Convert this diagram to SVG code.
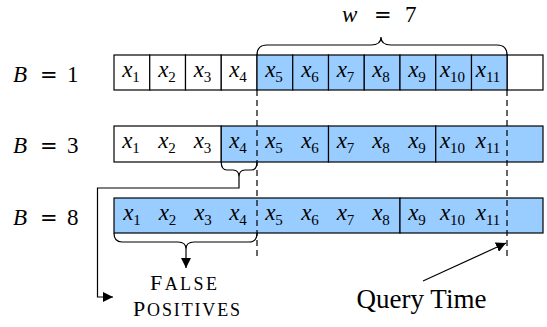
<svg xmlns="http://www.w3.org/2000/svg" width="547" height="327" viewBox="0 0 547 327">
  <style>
    .box { stroke: #000; stroke-width: 1.2; }
    .blue { fill: #99ccff; }
    .white { fill: #fff; }
    .m { font-family: "Liberation Serif", serif; font-size: 23px; fill: #000; }
    .it { font-style: italic; }
    .sub { font-size: 15px; font-style: normal; }
    .eq { font-family: "DejaVu Sans", sans-serif; font-size: 21px; font-style: normal; }
    .num { font-size: 23px; font-style: normal; }
    .lbl { font-family: "Liberation Serif", serif; fill: #000; }
    .cap { font-size: 22px; }
    .sc { font-size: 18px; }
    .line { fill: none; stroke: #000; stroke-width: 1.2; }
    .dash { fill: none; stroke: #000; stroke-width: 1.2; stroke-dasharray: 6 4; }
  </style>
  <defs>
    <marker id="arrow" viewBox="0 0 10 10" refX="10" refY="5" markerWidth="10" markerHeight="10" markerUnits="userSpaceOnUse" orient="auto">
      <path d="M0,0 L10,5 L0,10 z" fill="#000"/>
    </marker>
  </defs>

  <rect width="547" height="327" fill="#fff"/>

  <!-- window label and brace -->
  <g id="window">
    <text class="m" y="22"><tspan x="342" class="it">w</tspan><tspan x="374" class="eq">=</tspan><tspan x="405" class="num">7</tspan></text>
    <path class="line" d="M257,55 Q257,45 267,45 L371,45 Q381,45 381,37 Q381,45 391,45 L497,45 Q507,45 507,55"/>
  </g>

  <!-- B = 1: one element per block -->
  <g id="row-b1">
    <text class="m" y="82"><tspan x="13" class="it">B</tspan><tspan x="40" class="eq">=</tspan><tspan x="67" class="num">1</tspan></text>
    <rect class="box white" x="114" y="55" width="35.75" height="35"/>
    <rect class="box white" x="149.75" y="55" width="35.75" height="35"/>
    <rect class="box white" x="185.5" y="55" width="35.75" height="35"/>
    <rect class="box white" x="221.25" y="55" width="35.75" height="35"/>
    <rect class="box blue" x="257" y="55" width="35.75" height="35"/>
    <rect class="box blue" x="292.75" y="55" width="35.75" height="35"/>
    <rect class="box blue" x="328.5" y="55" width="35.75" height="35"/>
    <rect class="box blue" x="364.25" y="55" width="35.75" height="35"/>
    <rect class="box blue" x="400" y="55" width="35.75" height="35"/>
    <rect class="box blue" x="435.75" y="55" width="35.75" height="35"/>
    <rect class="box blue" x="471.5" y="55" width="35.75" height="35"/>
    <rect class="box white" x="507.25" y="55" width="35.75" height="35"/>
    <g class="m it" text-anchor="middle">
      <text x="131" y="77">x<tspan class="sub" dy="5">1</tspan></text>
      <text x="167" y="77">x<tspan class="sub" dy="5">2</tspan></text>
      <text x="202.5" y="77">x<tspan class="sub" dy="5">3</tspan></text>
      <text x="238" y="77">x<tspan class="sub" dy="5">4</tspan></text>
      <text x="274" y="77">x<tspan class="sub" dy="5">5</tspan></text>
      <text x="310" y="77">x<tspan class="sub" dy="5">6</tspan></text>
      <text x="345.5" y="77">x<tspan class="sub" dy="5">7</tspan></text>
      <text x="381" y="77">x<tspan class="sub" dy="5">8</tspan></text>
      <text x="417" y="77">x<tspan class="sub" dy="5">9</tspan></text>
      <text x="452.5" y="77">x<tspan class="sub" dy="5">10</tspan></text>
      <text x="488" y="77">x<tspan class="sub" dy="5">11</tspan></text>
    </g>
  </g>

  <!-- B = 3 -->
  <g id="row-b3">
    <text class="m" y="153"><tspan x="13" class="it">B</tspan><tspan x="40" class="eq">=</tspan><tspan x="67" class="num">3</tspan></text>
    <rect class="box white" x="114" y="126" width="107.25" height="36"/>
    <rect class="box blue" x="221.25" y="126" width="107.25" height="36"/>
    <rect class="box blue" x="328.5" y="126" width="107.25" height="36"/>
    <rect class="box blue" x="435.75" y="126" width="107.25" height="36"/>
    <g class="m it" text-anchor="middle">
      <text x="131" y="148">x<tspan class="sub" dy="5">1</tspan></text>
      <text x="167" y="148">x<tspan class="sub" dy="5">2</tspan></text>
      <text x="202.5" y="148">x<tspan class="sub" dy="5">3</tspan></text>
      <text x="238" y="148">x<tspan class="sub" dy="5">4</tspan></text>
      <text x="274" y="148">x<tspan class="sub" dy="5">5</tspan></text>
      <text x="310" y="148">x<tspan class="sub" dy="5">6</tspan></text>
      <text x="345.5" y="148">x<tspan class="sub" dy="5">7</tspan></text>
      <text x="381" y="148">x<tspan class="sub" dy="5">8</tspan></text>
      <text x="417" y="148">x<tspan class="sub" dy="5">9</tspan></text>
      <text x="452.5" y="148">x<tspan class="sub" dy="5">10</tspan></text>
      <text x="488" y="148">x<tspan class="sub" dy="5">11</tspan></text>
    </g>
  </g>

  <!-- B = 8 -->
  <g id="row-b8">
    <text class="m" y="225"><tspan x="13" class="it">B</tspan><tspan x="40" class="eq">=</tspan><tspan x="67" class="num">8</tspan></text>
    <rect class="box blue" x="114" y="198" width="286" height="35"/>
    <rect class="box blue" x="400" y="198" width="143" height="35"/>
    <g class="m it" text-anchor="middle">
      <text x="132" y="220">x<tspan class="sub" dy="5">1</tspan></text>
      <text x="167.5" y="220">x<tspan class="sub" dy="5">2</tspan></text>
      <text x="203" y="220">x<tspan class="sub" dy="5">3</tspan></text>
      <text x="238" y="220">x<tspan class="sub" dy="5">4</tspan></text>
      <text x="274" y="220">x<tspan class="sub" dy="5">5</tspan></text>
      <text x="310" y="220">x<tspan class="sub" dy="5">6</tspan></text>
      <text x="345.5" y="220">x<tspan class="sub" dy="5">7</tspan></text>
      <text x="381" y="220">x<tspan class="sub" dy="5">8</tspan></text>
      <text x="417" y="220">x<tspan class="sub" dy="5">9</tspan></text>
      <text x="452.5" y="220">x<tspan class="sub" dy="5">10</tspan></text>
      <text x="488" y="220">x<tspan class="sub" dy="5">11</tspan></text>
    </g>
  </g>

  <!-- captions (small caps set by hand) -->
  <g id="false-positives">
    <text class="lbl" x="183.5" y="290" text-anchor="middle" textLength="67" lengthAdjust="spacing"><tspan class="cap">F</tspan><tspan class="sc">ALSE</tspan></text>
    <text class="lbl" x="186.5" y="316" text-anchor="middle" textLength="107" lengthAdjust="spacing"><tspan class="cap">P</tspan><tspan class="sc">OSITIVES</tspan></text>
  </g>
  <g id="query-time">
    <text class="lbl" x="421.5" y="308" font-size="27" text-anchor="middle">Query Time</text>
  </g>

  <!-- connectors -->
  <g id="connectors">
    <line class="dash" x1="257" y1="90" x2="257" y2="258"/>
    <line class="dash" x1="507" y1="90" x2="507" y2="258"/>
    <!-- brace under x4 in B = 3, routed to the caption -->
    <path class="line" d="M221.25,162 Q221.25,170 227,170 L233,170 Q239,170 239,177 Q239,170 245,170 L251,170 Q257,170 257,162"/>
    <path class="line" d="M239,177 L239,188 L97.5,188 L97.5,297 L113,297" marker-end="url(#arrow)"/>
    <!-- brace under x1..x4 in B = 8 -->
    <path class="line" d="M114,233 Q114,242 122,242 L178,242 Q186,242 186,249 Q186,242 194,242 L249,242 Q257,242 257,233"/>
    <path class="line" d="M186,249 L186,268" marker-end="url(#arrow)"/>
    <line class="line" x1="423" y1="281" x2="506" y2="243" marker-end="url(#arrow)"/>
  </g>
</svg>
